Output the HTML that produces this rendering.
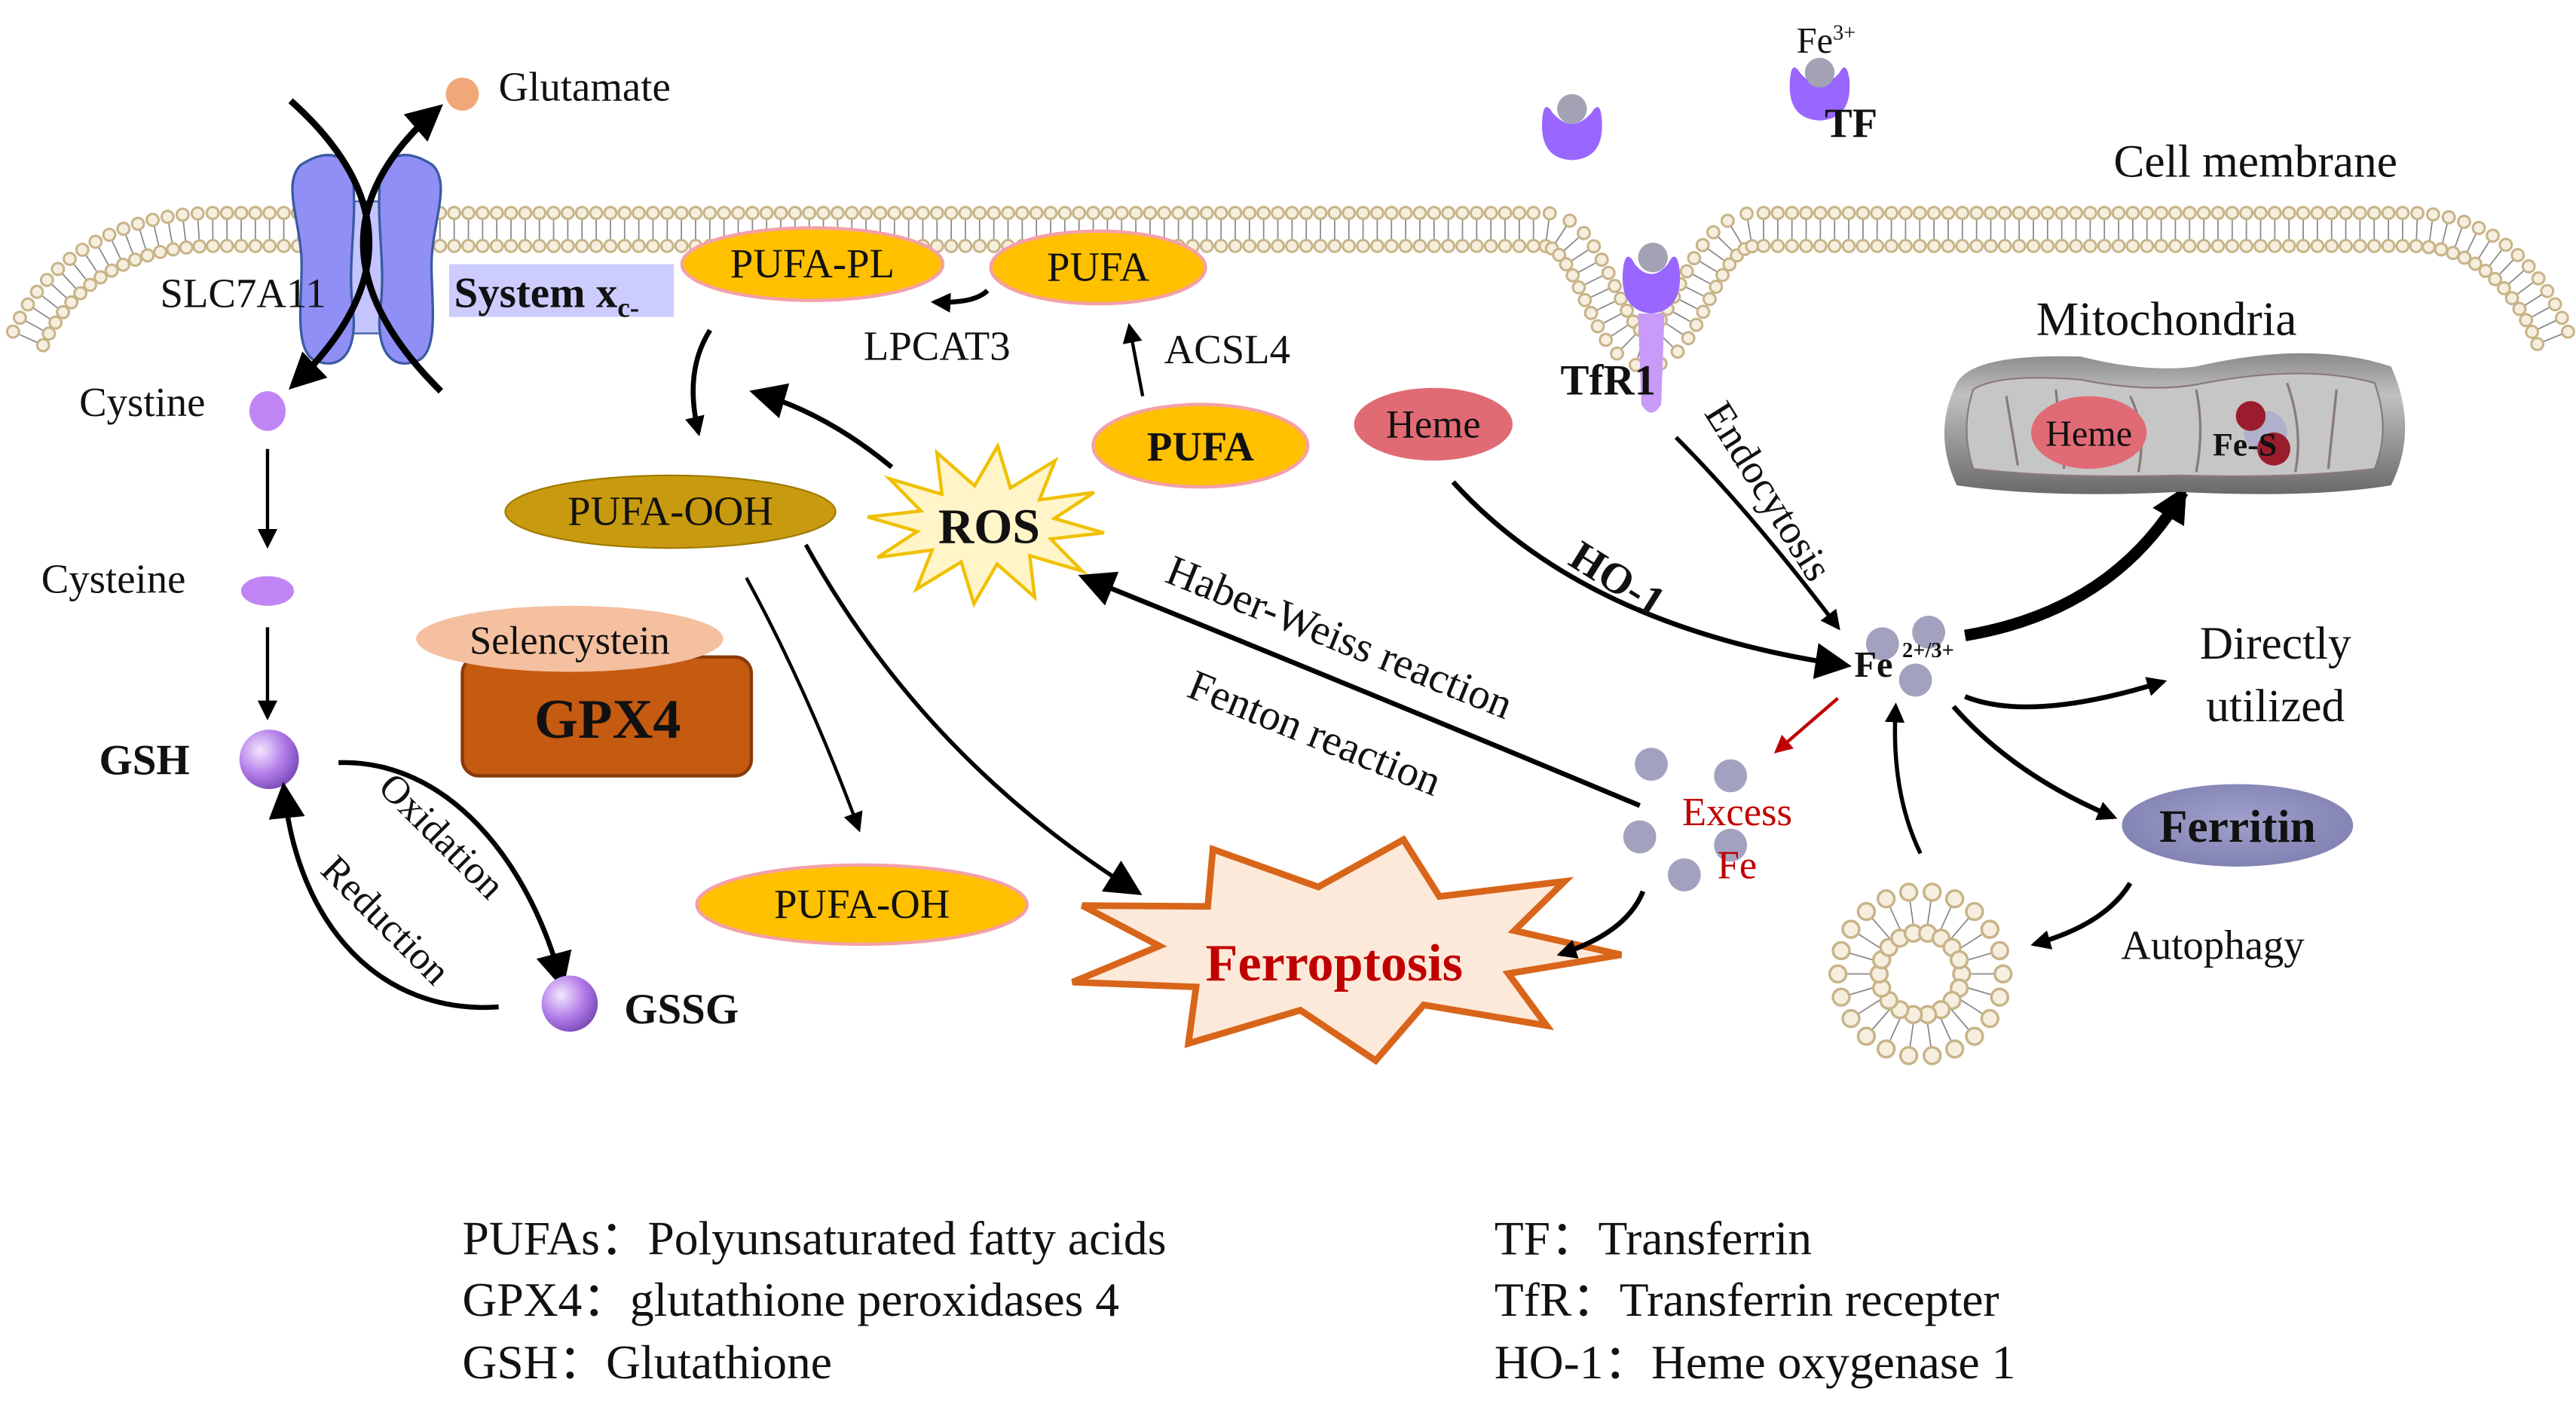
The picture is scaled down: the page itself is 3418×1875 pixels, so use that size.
<!DOCTYPE html>
<html><head><meta charset="utf-8"><style>
html,body{margin:0;padding:0;background:#fff;}
svg{display:block;}
text{font-family:"Liberation Serif",serif;fill:#111;}
</style></head><body>
<svg id="s" width="3418" height="1875" viewBox="0 0 1560 856" preserveAspectRatio="none" xmlns="http://www.w3.org/2000/svg">
<defs>
<marker id="ah" viewBox="0 0 10 10" refX="8" refY="5" markerWidth="12" markerHeight="12" markerUnits="userSpaceOnUse" orient="auto"><path d="M0,0 L10,5 L0,10 z" fill="#000"/></marker>
<marker id="ahb" viewBox="0 0 10 10" refX="8" refY="5" markerWidth="22" markerHeight="22" markerUnits="userSpaceOnUse" orient="auto"><path d="M0,0 L10,5 L0,10 z" fill="#000"/></marker>
<marker id="ahr" viewBox="0 0 10 10" refX="8" refY="5" markerWidth="11" markerHeight="11" markerUnits="userSpaceOnUse" orient="auto"><path d="M0,0 L10,5 L0,10 z" fill="#c00000"/></marker>
<radialGradient id="sph" cx="35%" cy="35%" r="70%"><stop offset="0" stop-color="#f3e6ff"/><stop offset="0.6" stop-color="#b07ae8"/><stop offset="1" stop-color="#7a4cb8"/></radialGradient>
<linearGradient id="mito" x1="0" y1="0" x2="0" y2="1"><stop offset="0" stop-color="#8a8a8a"/><stop offset="0.3" stop-color="#c0c0c0"/><stop offset="1" stop-color="#6a6a6a"/></linearGradient>
<radialGradient id="fer" cx="50%" cy="45%" r="60%"><stop offset="0" stop-color="#a0a0cc"/><stop offset="1" stop-color="#7f80b0"/></radialGradient>
</defs>
<g id="mem"></g>
<path id="memc" d="M17,205 C35,165 75,139 130,139 L935,139 C965,139 972,212 997,212 C1022,212 1030,139 1063,139 L1460,139 C1505,139 1532,170 1546,205" fill="none" stroke="none"/>

<!-- transporter -->
<rect x="205" y="122" width="40" height="80" fill="#c4c4ff" stroke="#3a5aa0" stroke-width="1"/>
<path d="M182,100 C200,88 212,95 214,110 C216,140 210,160 214,190 C216,215 205,225 190,218 C176,210 185,170 182,150 C180,130 172,110 182,100z" fill="#8f8ff5" stroke="#3a5aa0" stroke-width="1.5"/>
<path d="M262,100 C244,88 232,95 230,110 C228,140 234,160 230,190 C228,215 239,225 254,218 C268,210 259,170 262,150 C264,130 272,110 262,100z" fill="#8f8ff5" stroke="#3a5aa0" stroke-width="1.5"/>
<path d="M176,61 Q270,145 178,233" fill="none" stroke="#000" stroke-width="4" marker-end="url(#ahb)"/>
<path d="M267,237 Q174,145 265,66" fill="none" stroke="#000" stroke-width="4" marker-end="url(#ahb)"/>
<circle cx="280" cy="57" r="10" fill="#f0a878"/>
<text x="302" y="61" font-size="25">Glutamate</text>
<text x="97" y="186" font-size="25">SLC7A11</text>
<rect x="272" y="160" width="136" height="32" fill="#ccccff"/>
<text x="275" y="186" font-size="26" font-weight="bold">System x<tspan font-size="17" dy="6">c-</tspan></text>

<!-- left GSH column -->
<text x="48" y="252" font-size="25">Cystine</text>
<ellipse cx="162" cy="249" rx="11" ry="12" fill="#c084f5"/>
<line x1="162" y1="272" x2="162" y2="330" stroke="#000" stroke-width="2" marker-end="url(#ah)"/>
<text x="25" y="359" font-size="25">Cysteine</text>
<ellipse cx="162" cy="358" rx="16" ry="9" fill="#c084f5"/>
<line x1="162" y1="380" x2="162" y2="434" stroke="#000" stroke-width="2" marker-end="url(#ah)"/>
<text x="60" y="469" font-size="26" font-weight="bold">GSH</text>
<circle cx="163" cy="460" r="18" fill="url(#sph)"/>
<path d="M205,462 C270,460 320,520 340,595" fill="none" stroke="#000" stroke-width="3" marker-end="url(#ahb)"/>
<path d="M302,610 C230,615 180,560 172,478" fill="none" stroke="#000" stroke-width="3" marker-end="url(#ahb)"/>
<text x="0" y="0" font-size="24" transform="translate(262,512) rotate(45)" text-anchor="middle">Oxidation</text>
<text x="0" y="0" font-size="24" transform="translate(228,563) rotate(45)" text-anchor="middle">Reduction</text>
<circle cx="345" cy="608" r="17" fill="url(#sph)"/>
<text x="378" y="620" font-size="26" font-weight="bold">GSSG</text>

<!-- GPX4 -->
<rect x="280" y="398" width="175" height="72" rx="10" fill="#c55a11" stroke="#8b3a0a" stroke-width="2"/>
<ellipse cx="345" cy="387" rx="93" ry="20" fill="#f5c0a0"/>
<text x="345" y="396" font-size="24" text-anchor="middle">Selencystein</text>
<text x="368" y="447" font-size="34" font-weight="bold" text-anchor="middle">GPX4</text>

<!-- PUFA chain -->
<ellipse cx="492" cy="160" rx="79" ry="22" fill="#ffc000" stroke="#f4a0a8" stroke-width="2"/>
<text x="492" y="168" font-size="25" text-anchor="middle">PUFA-PL</text>
<ellipse cx="665" cy="162" rx="65" ry="22" fill="#ffc000" stroke="#f4a0a8" stroke-width="2"/>
<text x="665" y="170" font-size="25" text-anchor="middle">PUFA</text>
<path d="M598,176 Q590,184 566,183" fill="none" stroke="#000" stroke-width="3" marker-end="url(#ah)"/>
<text x="523" y="218" font-size="25">LPCAT3</text>
<text x="705" y="220" font-size="25">ACSL4</text>
<line x1="692" y1="240" x2="684" y2="198" stroke="#000" stroke-width="2" marker-end="url(#ah)"/>
<ellipse cx="727" cy="270" rx="65" ry="25" fill="#ffc000" stroke="#f4a0a8" stroke-width="2"/>
<text x="727" y="279" font-size="25" font-weight="bold" text-anchor="middle">PUFA</text>
<path d="M430,200 Q414,225 423,262" fill="none" stroke="#000" stroke-width="3" marker-end="url(#ah)"/>
<ellipse cx="406" cy="310" rx="100" ry="22" fill="#c89a10" stroke="#a07a00" stroke-width="1"/>
<text x="406" y="318" font-size="25" text-anchor="middle">PUFA-OOH</text>
<g id="ros"></g>
<text x="599" y="329" font-size="30" font-weight="bold" text-anchor="middle">ROS</text>
<path d="M540,283 Q500,250 458,238" fill="none" stroke="#000" stroke-width="3" marker-end="url(#ahb)"/>
<path d="M452,350 Q490,420 520,502" fill="none" stroke="#000" stroke-width="2" marker-end="url(#ah)"/>
<path d="M488,330 Q560,460 688,540" fill="none" stroke="#000" stroke-width="2.5" marker-end="url(#ahb)"/>
<ellipse cx="522" cy="548" rx="100" ry="24" fill="#ffc000" stroke="#f4a0a8" stroke-width="2"/>
<text x="522" y="556" font-size="25" text-anchor="middle">PUFA-OH</text>
<g id="ferro"></g>
<text x="808" y="594" font-size="32" font-weight="bold" text-anchor="middle" style="fill:#c00000">Ferroptosis</text>

<!-- iron -->
<ellipse cx="868" cy="257" rx="48" ry="22" fill="#e06b75"/>
<text x="868" y="265" font-size="24" text-anchor="middle">Heme</text>
<path d="M880,292 Q960,380 1117,403" fill="none" stroke="#000" stroke-width="3" marker-end="url(#ahb)"/>
<text font-size="26" font-weight="bold" transform="translate(975,358) rotate(32)" text-anchor="middle">HO-1</text>
<path d="M1015,265 Q1060,310 1113,380" fill="none" stroke="#000" stroke-width="2.5" marker-end="url(#ah)"/>
<text font-size="25" transform="translate(1064,302) rotate(58)" text-anchor="middle">Endocytosis</text>
<circle cx="1140" cy="390" r="10" fill="#a2a2c0"/>
<circle cx="1168" cy="383" r="10" fill="#a2a2c0"/>
<circle cx="1160" cy="412" r="10" fill="#a2a2c0"/>
<text x="1123" y="410" font-size="22" font-weight="bold">Fe</text>
<text x="1152" y="398" font-size="13" font-weight="bold">2+/3+</text>
<path d="M1190,385 Q1280,370 1322,298" fill="none" stroke="#000" stroke-width="7" marker-end="url(#ahb)"/>
<path d="M1190,422 Q1230,438 1310,413" fill="none" stroke="#000" stroke-width="3" marker-end="url(#ah)"/>
<text x="1378" y="399" font-size="28" text-anchor="middle">Directly</text>
<text x="1378" y="437" font-size="28" text-anchor="middle">utilized</text>
<path d="M1183,428 Q1220,470 1280,495" fill="none" stroke="#000" stroke-width="3" marker-end="url(#ah)"/>
<ellipse cx="1355" cy="500" rx="70" ry="25" fill="url(#fer)"/>
<text x="1355" y="510" font-size="28" font-weight="bold" text-anchor="middle">Ferritin</text>
<path d="M1290,535 Q1275,560 1232,572" fill="none" stroke="#000" stroke-width="3" marker-end="url(#ah)"/>
<text x="1340" y="581" font-size="25" text-anchor="middle">Autophagy</text>
<g id="auto"></g>
<path d="M1163,517 Q1145,480 1148,428" fill="none" stroke="#000" stroke-width="2.5" marker-end="url(#ah)"/>
<line x1="1113" y1="423" x2="1076" y2="455" stroke="#c00000" stroke-width="2" marker-end="url(#ahr)"/>
<circle cx="1000" cy="463" r="10" fill="#a2a2c0"/>
<circle cx="1048" cy="470" r="10" fill="#a2a2c0"/>
<circle cx="993" cy="507" r="10" fill="#a2a2c0"/>
<circle cx="1048" cy="512" r="10" fill="#a2a2c0"/>
<circle cx="1020" cy="530" r="10" fill="#a2a2c0"/>
<text x="1052" y="500" font-size="24" text-anchor="middle" style="fill:#c00000">Excess</text>
<text x="1052" y="532" font-size="24" text-anchor="middle" style="fill:#c00000">Fe</text>
<path d="M995,540 Q985,565 945,578" fill="none" stroke="#000" stroke-width="3" marker-end="url(#ah)"/>
<path d="M993,488 Q830,420 657,350" fill="none" stroke="#000" stroke-width="3" marker-end="url(#ahb)"/>
<text font-size="26" transform="translate(808,394) rotate(22)" text-anchor="middle">Haber-Weiss reaction</text>
<text font-size="26" transform="translate(793,452) rotate(22)" text-anchor="middle">Fenton reaction</text>

<!-- TF / TfR1 -->
<path d="M992,190 L1008,190 L1006,245 Q1000,255 994,245z" fill="#c99af8"/>
<path d="M983,162 Q985,150 990,160 Q1000,172 1010,160 Q1015,150 1017,162 Q1020,188 1000,190 Q980,188 983,162z" fill="#9966ff"/>
<circle cx="1001" cy="156" r="9" fill="#a2a2b4"/>
<text x="945" y="239" font-size="26" font-weight="bold">TfR1</text>
<path d="M934,72 Q935,60 940,68 Q952,82 964,68 Q969,60 970,72 Q972,96 952,97 Q932,96 934,72z" fill="#9966ff"/>
<circle cx="952" cy="66" r="9" fill="#a2a2b4"/>
<path d="M1084,48 Q1085,36 1090,44 Q1102,58 1114,44 Q1118,36 1120,48 Q1122,72 1102,73 Q1082,72 1084,48z" fill="#9966ff"/>
<circle cx="1102" cy="44" r="9" fill="#a2a2b4"/>
<text x="1088" y="32" font-size="22">Fe<tspan font-size="13" dy="-8">3+</tspan></text>
<text x="1105" y="83" font-size="25" font-weight="bold">TF</text>
<text x="1280" y="107" font-size="28">Cell membrane</text>

<!-- mitochondria -->
<text x="1312" y="203" font-size="29" text-anchor="middle">Mitochondria</text>
<path d="M1185,232 Q1195,214 1260,216 Q1300,226 1330,222 Q1400,206 1448,222 Q1465,260 1448,294 Q1400,302 1320,298 Q1240,302 1185,294 Q1170,262 1185,232z" fill="url(#mito)"/>
<path d="M1195,236 Q1210,226 1260,230 Q1300,238 1330,233 Q1395,220 1438,232 Q1448,260 1438,284 Q1390,290 1320,288 Q1245,290 1195,284 Q1187,260 1195,236z" fill="#c6c6c6" stroke="#8a7a7a" stroke-width="1"/>
<path d="M1215,240 L1222,282 M1245,236 L1250,284 M1290,240 Q1300,260 1295,286 M1330,236 Q1335,260 1330,286 M1385,232 Q1395,260 1390,286 M1415,236 L1410,284" stroke="#8a7a7a" stroke-width="1.5" fill="none"/>
<ellipse cx="1265" cy="262" rx="35" ry="22" fill="#e06b75"/>
<text x="1265" y="270" font-size="22" text-anchor="middle">Heme</text>
<circle cx="1372" cy="262" r="13" fill="#b0b0cc"/>
<circle cx="1363" cy="252" r="9" fill="#9b1c2c"/>
<circle cx="1377" cy="272" r="10" fill="#9b1c2c"/>
<text x="1340" y="276" font-size="20" font-weight="bold">Fe-S</text>

<!-- legend -->
<text x="280" y="760" font-size="29">PUFAs：Polyunsaturated fatty acids</text>
<text x="280" y="797" font-size="29">GPX4：glutathione peroxidases 4</text>
<text x="280" y="835" font-size="29">GSH：Glutathione</text>
<text x="905" y="760" font-size="29">TF：Transferrin</text>
<text x="905" y="797" font-size="29">TfR：Transferrin recepter</text>
<text x="905" y="835" font-size="29">HO-1：Heme oxygenase 1</text>
</svg>
<script>
(function(){
var NS="http://www.w3.org/2000/svg";
function el(t,a,p){var e=document.createElementNS(NS,t);for(var k in a)e.setAttribute(k,a[k]);p.appendChild(e);return e;}
var mem=document.getElementById('mem'),c=document.getElementById('memc');
var L=c.getTotalLength();
for(var s=0;s<=L;s+=8.6){
 var p=c.getPointAtLength(s),q=c.getPointAtLength(Math.min(L,s+0.5)),r=c.getPointAtLength(Math.max(0,s-0.5));
 var dx=q.x-r.x,dy=q.y-r.y,d=Math.hypot(dx,dy)||1,nx=-dy/d,ny=dx/d;
 el('line',{x1:p.x+nx*6,y1:p.y+ny*6,x2:p.x-nx*6,y2:p.y-ny*6,stroke:'#888','stroke-width':0.8},mem);
 el('circle',{cx:p.x+nx*10,cy:p.y+ny*10,r:3.6,fill:'#f6efe0',stroke:'#c8b488','stroke-width':1.4},mem);
 el('circle',{cx:p.x-nx*10,cy:p.y-ny*10,r:3.6,fill:'#f6efe0',stroke:'#c8b488','stroke-width':1.4},mem);
}
function star(g,cx,cy,rx1,ry1,rx2,ry2,n,fill,stroke,sw,rot){
 var pts=[];for(var i=0;i<2*n;i++){var a=Math.PI*i/n+(rot||0);var o=i%2==0;pts.push((cx+Math.cos(a)*(o?rx1:rx2)).toFixed(1)+','+(cy+Math.sin(a)*(o?ry1:ry2)).toFixed(1));}
 el('polygon',{points:pts.join(' '),fill:fill,stroke:stroke,'stroke-width':sw},g);
}
star(document.getElementById('ros'),597,318,72,48,42,24,12,'#fff5c8','#f0c000',2,0.1);
star(document.getElementById('ferro'),812,575,170,68,110,38,9,'#fde9d9','#d8651a',4,0.05);
var a=document.getElementById('auto');
for(var i=0;i<22;i++){var t=i/22*2*Math.PI;var cx=1163,cy=590;
 el('line',{x1:cx+Math.cos(t)*26,y1:cy+Math.sin(t)*26,x2:cx+Math.cos(t)*46,y2:cy+Math.sin(t)*46,stroke:'#888','stroke-width':0.8},a);
 el('circle',{cx:cx+Math.cos(t)*50,cy:cy+Math.sin(t)*50,r:5,fill:'#f6efe0',stroke:'#c8b488','stroke-width':1.6},a);}
for(var i=0;i<18;i++){var t=i/18*2*Math.PI;
 el('circle',{cx:1163+Math.cos(t)*25,cy:590+Math.sin(t)*25,r:5,fill:'#f6efe0',stroke:'#c8b488','stroke-width':1.6},a);}
})();
</script>
</body></html>
